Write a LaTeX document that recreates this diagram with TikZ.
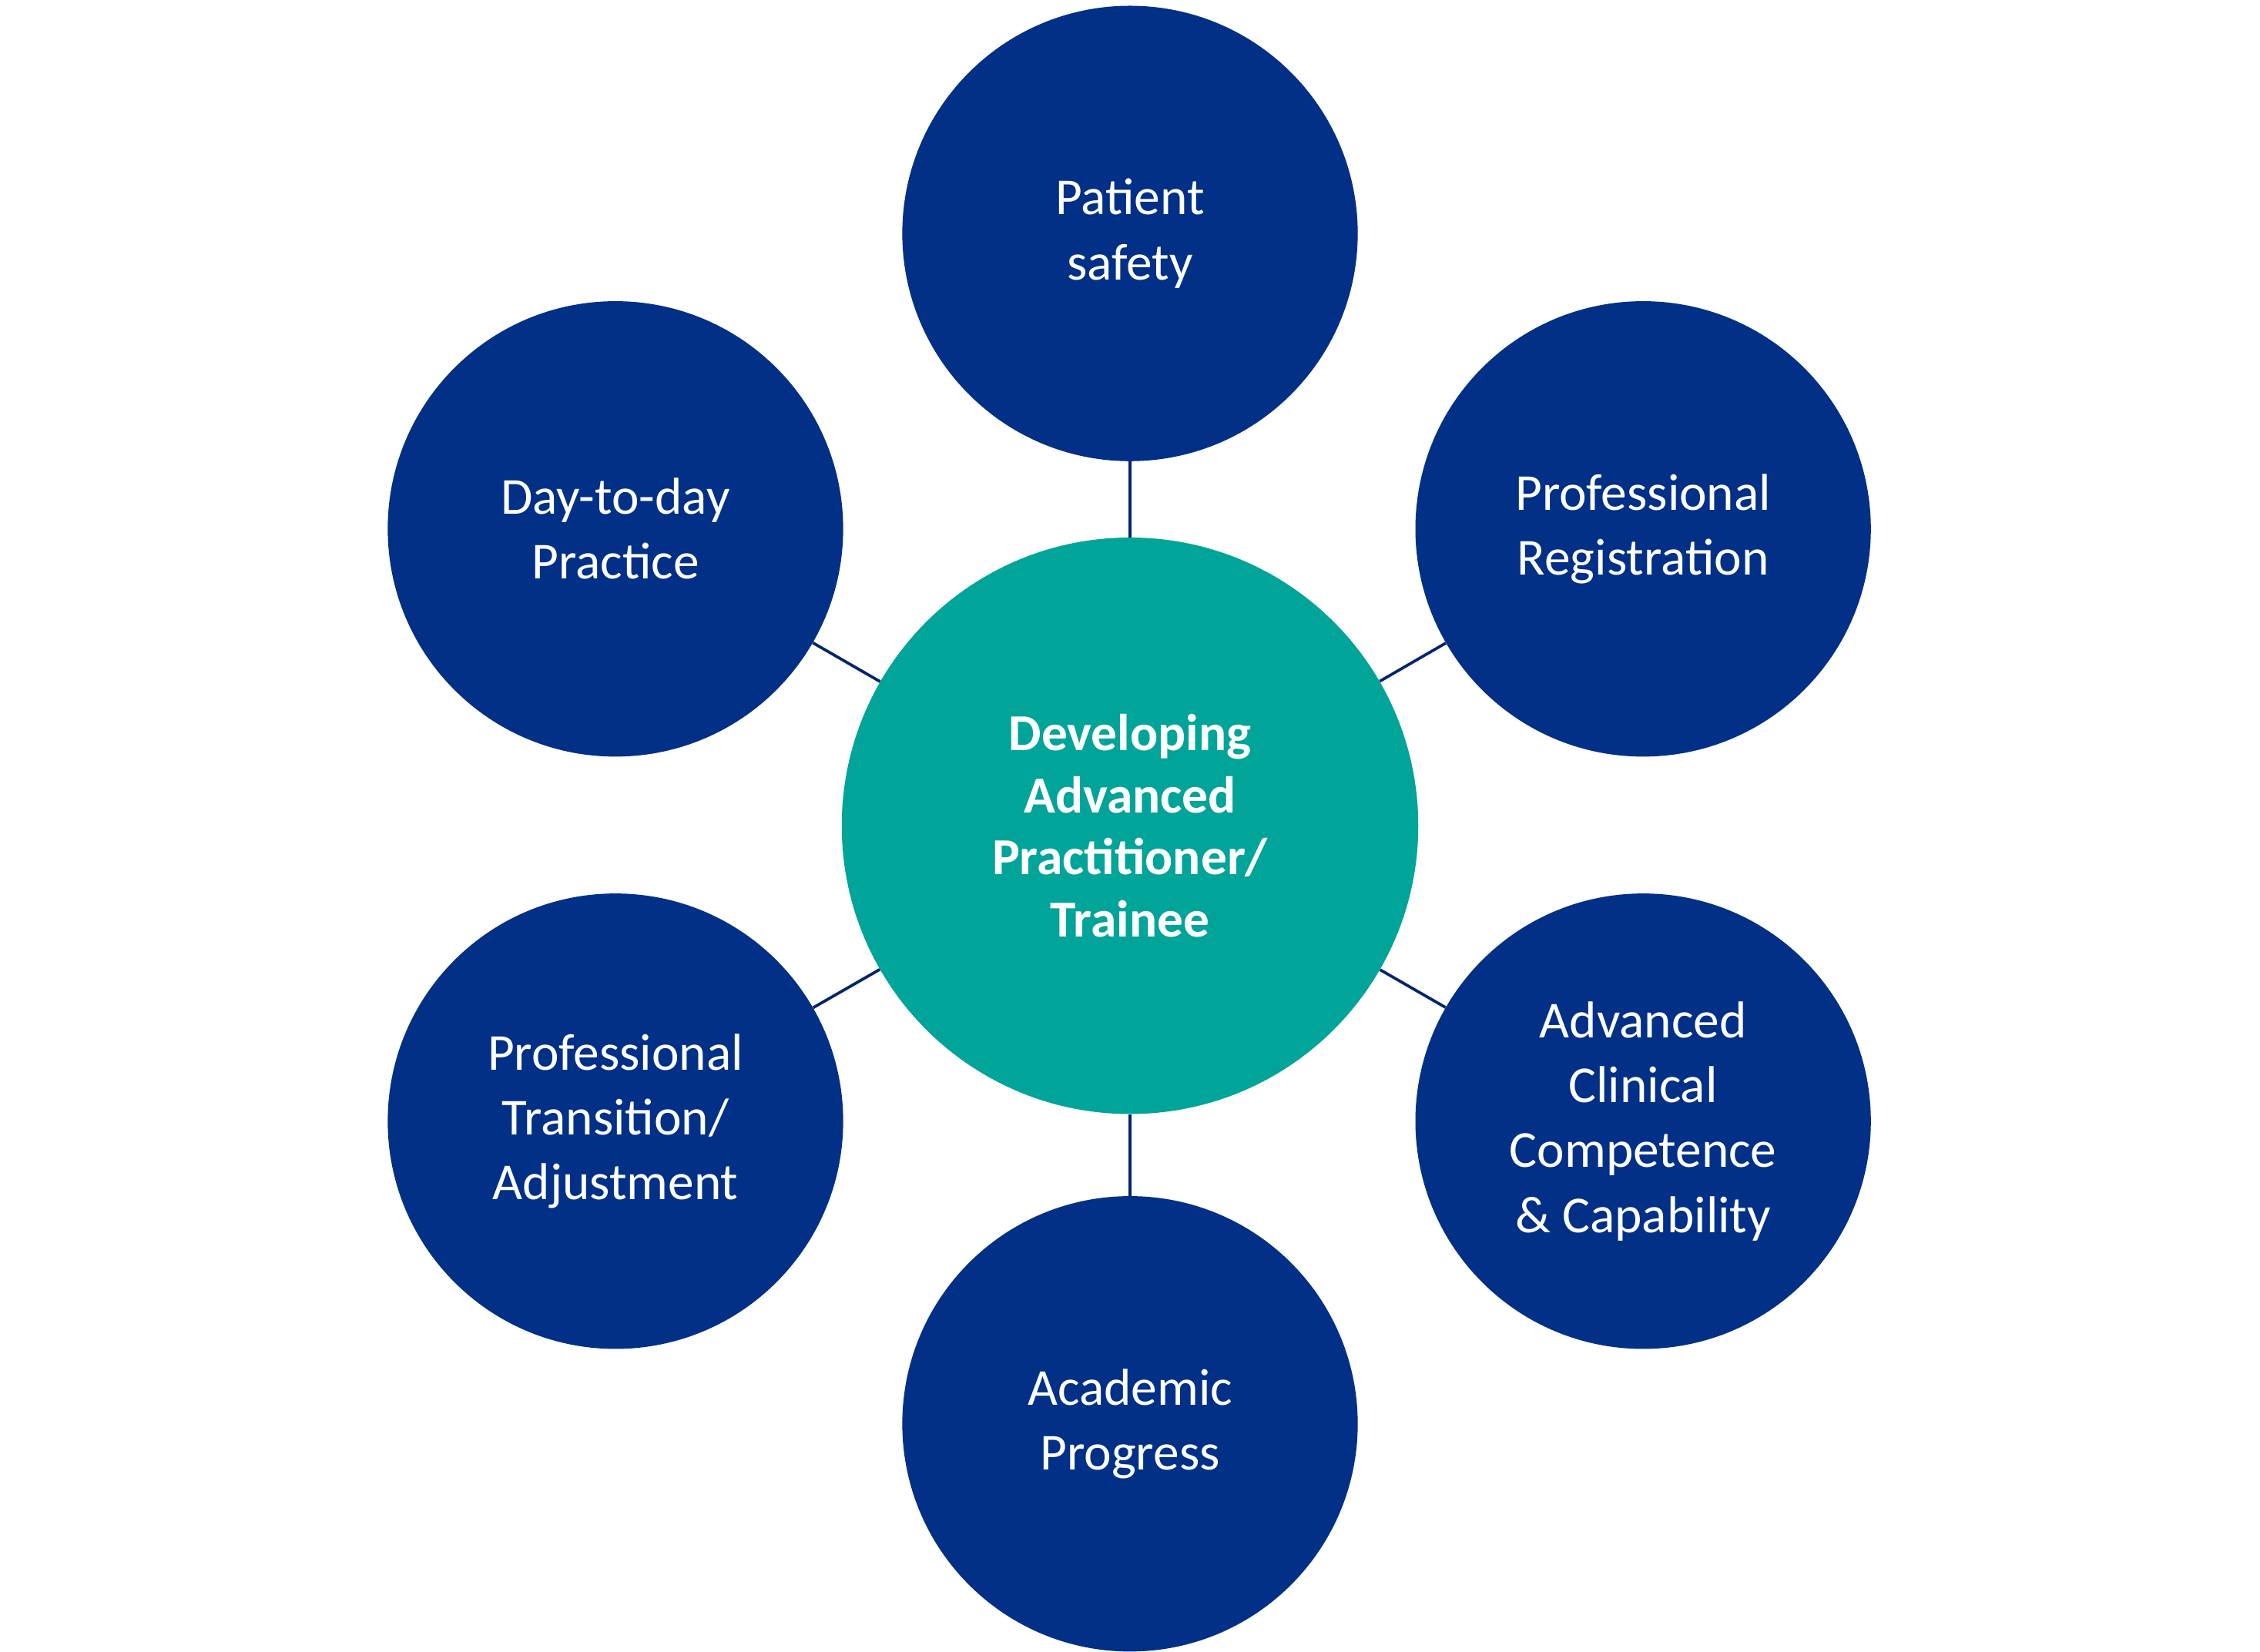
\documentclass[tikz,border=0pt]{standalone}
\usepackage{fontspec}
\setmainfont{Carlito}
\usetikzlibrary{positioning}
\definecolor{NavyBlue}{RGB}{2,48,135}
\definecolor{TealGreen}{RGB}{0,164,153}
\tikzset{
  topic/.style={circle, fill=NavyBlue, minimum size=316pt, inner sep=0pt, text=white,
    align=center, font=\fontsize{36}{45}\selectfont},
  hub/.style={circle, fill=TealGreen, minimum size=400pt, inner sep=0pt, text=white,
    align=center, font=\fontsize{36}{43}\selectfont\bfseries},
  link/.style={draw=NavyBlue!80!black, line width=2pt}
}
\begin{document}
\begin{tikzpicture}[x=1pt,y=-1pt]
  \useasboundingbox (0,0) rectangle (1568,1146);

  % hub
  \node [hub] (hub) at (784,573) {Developing\\Advanced\\Practitioner/\\Trainee};

  % topics
  \node [topic] (safety) at (784,162) {Patient\\safety};
  \node [topic] (regist) at (1140,367) {Professional\\Registration};
  \node [topic] (clinic) at (1140,778) {Advanced\\Clinical\\Competence\\\& Capability};
  \node [topic] (academ) at (784,988) {Academic\\Progress};
  \node [topic] (transit) at (427,778) {Professional\\Transition/\\Adjustment};
  \node [topic] (daily) at (427,367) {Day-to-day\\Practice};

  % links
  \foreach \t in {safety,regist,clinic,academ,transit,daily}
    \draw [link] (hub) -- (\t);
\end{tikzpicture}
\end{document}
